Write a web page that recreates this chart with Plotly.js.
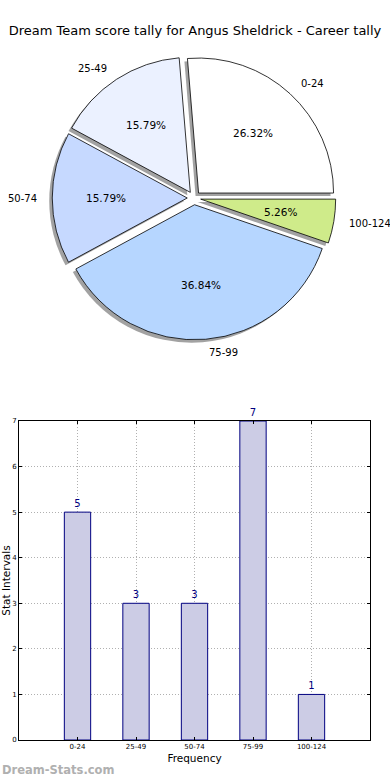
<!DOCTYPE html>
<html>
<head>
<meta charset="utf-8">
<script src="https://cdn.plot.ly/plotly-3.0.1.min.js"></script>
<style>html,body{margin:0;padding:0;background:#fff;}#chart{width:390px;height:780px;}</style>
</head>
<body>
<div id="chart"></div>
<script>
// ---- data ----
const categories = ['0-24', '25-49', '50-74', '75-99', '100-124'];
const counts = [5, 3, 3, 7, 1];
const pieColors = ['#ffffff', '#ebf1ff', '#c6d9ff', '#b6d6ff', '#cfeb8a'];
const yTicks = [0, 1, 2, 3, 4, 5, 6, 7];
const chartTitle = 'Dream Team score tally for Angus Sheldrick - Career tally';
const xTitle = 'Frequency';
const yTitle = 'Stat Intervals';
const watermark = 'Dream-Stats.com';

// ---- layout geometry ----
const W = 390, H = 780;
const FONT = 'DejaVu Sans, sans-serif';
const pieCx = 194, pieCy = 198, pieR = 135, pullAmt = 0.05;
const half = pieR * (1 + pullAmt);
function pieDomain(cx, cy) {
  return {
    x: [(cx - half) / W, (cx + half) / W],
    y: [1 - (cy + half) / H, 1 - (cy - half) / H]
  };
}
const pulls = categories.map(() => pullAmt);
const total = counts.reduce((a, b) => a + b, 0);
// first slice starts at 3 o'clock and runs counterclockwise (matplotlib default)
const rot = 90 - 360 * counts[0] / total;

const shadow = {
  type: 'pie', values: counts, labels: categories, sort: false,
  direction: 'counterclockwise', rotation: rot, pull: pulls,
  domain: pieDomain(pieCx - 3, pieCy + 3),
  marker: {colors: categories.map(() => 'rgba(70,70,70,0.5)'), line: {width: 0}},
  textinfo: 'none', hoverinfo: 'skip', showlegend: false
};
const pie = {
  type: 'pie', values: counts, labels: categories, sort: false,
  direction: 'counterclockwise', rotation: rot, pull: pulls,
  domain: pieDomain(pieCx, pieCy),
  marker: {colors: pieColors, line: {color: '#000000', width: 0.8}},
  textinfo: 'none', showlegend: false
};

const bars = {
  type: 'bar', x: categories, y: counts, width: 0.45,
  marker: {color: '#cccce5', line: {color: '#000080', width: 1}},
  text: counts.map(String), textposition: 'outside', cliponaxis: false,
  textfont: {family: FONT, size: 10, color: '#000080'},
  xaxis: 'x', yaxis: 'y', showlegend: false
};

// ---- pie annotations (labels at 1.1R, percentages at 0.6R) ----
const annotations = [];
let acc = 0;
counts.forEach((c, i) => {
  const frac = c / total;
  const mid = (acc + frac / 2) * 2 * Math.PI;
  acc += frac;
  const cs = Math.cos(mid), sn = Math.sin(mid);
  const dl = (1.1 + pullAmt) * pieR;
  annotations.push({
    xref: 'paper', yref: 'paper', showarrow: false,
    x: (pieCx + dl * cs) / W, y: 1 - (pieCy - dl * sn) / H,
    xanchor: cs > 0 ? 'left' : 'right', yanchor: 'middle',
    text: categories[i], font: {family: FONT, size: 10, color: '#000'}
  });
  const dp = (0.6 + pullAmt) * pieR;
  annotations.push({
    xref: 'paper', yref: 'paper', showarrow: false,
    x: (pieCx + dp * cs) / W, y: 1 - (pieCy - dp * sn) / H,
    xanchor: 'center', yanchor: 'middle',
    text: (frac * 100).toFixed(2) + '%', font: {family: FONT, size: 10.5, color: '#000'}
  });
});
annotations.push({
  xref: 'paper', yref: 'paper', showarrow: false,
  x: 0, y: 1 - 770 / H, xanchor: 'left', yanchor: 'middle',
  text: '<b>' + watermark + '</b>', font: {family: FONT, size: 11.5, color: '#b0b0b0'}
});

const layout = {
  width: W, height: H,
  margin: {l: 0, r: 0, t: 0, b: 0},
  paper_bgcolor: '#ffffff', plot_bgcolor: '#ffffff',
  font: {family: FONT, color: '#000'},
  title: {text: chartTitle, x: 0.5, xanchor: 'center', y: 1 - 30 / H, yanchor: 'middle',
          font: {family: FONT, size: 13, color: '#000'}},
  xaxis: {
    domain: [19 / W, 370 / W], anchor: 'y', type: 'category', range: [-1, 5],
    showline: true, linecolor: '#000', linewidth: 1, mirror: 'ticks',
    ticks: 'inside', ticklen: 3, tickcolor: '#000',
    showgrid: true, gridcolor: '#b0b0b0', griddash: '1px,2px', gridwidth: 1,
    tickfont: {family: FONT, size: 7, color: '#000'},
    title: {text: xTitle, standoff: 4, font: {family: FONT, size: 10.5, color: '#000'}},
    automargin: false, zeroline: false, fixedrange: true
  },
  yaxis: {
    domain: [1 - 740 / H, 1 - 421 / H], anchor: 'x', range: [0, 7],
    tickvals: yTicks, ticktext: yTicks.map(String),
    showline: true, linecolor: '#000', linewidth: 1, mirror: 'ticks',
    ticks: 'inside', ticklen: 3, tickcolor: '#000',
    showgrid: true, gridcolor: '#b0b0b0', griddash: '1px,2px', gridwidth: 1,
    tickfont: {family: FONT, size: 7, color: '#000'},
    title: {text: yTitle, standoff: -1, font: {family: FONT, size: 10.5, color: '#000'}},
    automargin: false, zeroline: false, fixedrange: true
  },
  annotations: annotations,
  bargap: 0.55
};

Plotly.newPlot('chart', [shadow, pie, bars], layout, {displayModeBar: false, staticPlot: true});
</script>
</body>
</html>
